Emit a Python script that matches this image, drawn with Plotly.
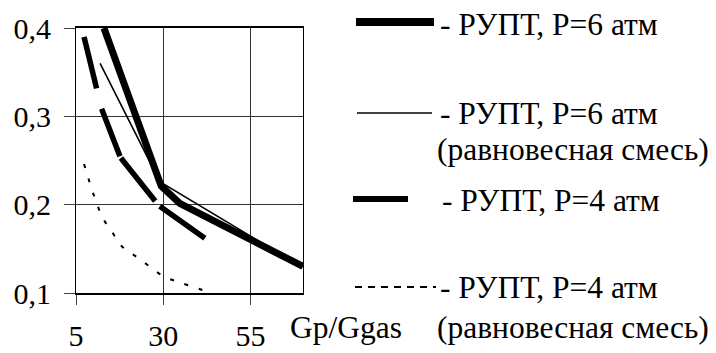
import plotly.graph_objects as go

# ---- data ----
x_p6 = [13.0, 29.4, 34.7, 70.0]
y_p6 = [0.400, 0.221, 0.2015, 0.130]

x_p6eq = [11.9, 29.0, 58.1, 70.0]
y_p6eq = [0.360, 0.226, 0.157, 0.131]

x_p4 = [7.3, 12.3, 17.7, 28.7, 41.9]
y_p4 = [0.390, 0.309, 0.2535, 0.199, 0.162]

x_p4eq = [7.3, 10.0, 12.8, 15.2, 18.1, 22.3, 26.1, 30.0, 34.7, 40.4, 43.3]
y_p4eq = [0.246, 0.212, 0.184, 0.170, 0.153, 0.141, 0.130, 0.119, 0.112, 0.1045, 0.1005]

x_ticks = [5, 30, 55]
y_ticks = [0.1, 0.2, 0.3, 0.4]

legend_labels = ["- РУПТ, Р=6 атм", "- РУПТ, Р=6 атм", "- РУПТ, Р=4 атм", "- РУПТ, Р=4 атм"]
legend_sub = "(равновесная смесь)"
x_title = "Gp/Ggas"

# ---- layout geometry ----
W, H = 716, 353
L, R, T, B = 76, 413, 28, 60
PW, PH = W - L - R, H - T - B
FONT = "Liberation Serif"
FS_TICK = 30
FS_TEXT = 31.5


def px_x(px):
    return (px - L) / PW


def px_y(py):
    return (H - B - py) / PH


fig = go.Figure()
fig.add_trace(go.Scatter(x=x_p4eq, y=y_p4eq, mode="lines",
                         line=dict(color="black", width=2, dash="4px,11px", shape="spline")))
fig.add_trace(go.Scatter(x=x_p4, y=y_p4, mode="lines",
                         line=dict(color="black", width=5.5,
                                   dash="53px,21px,51px,2px,55px,7px,60px,20px")))
fig.add_trace(go.Scatter(x=x_p6eq, y=y_p6eq, mode="lines",
                         line=dict(color="black", width=1.6)))
fig.add_trace(go.Scatter(x=x_p6, y=y_p6, mode="lines",
                         line=dict(color="black", width=7)))

shapes = []
annotations = []
# legend samples: (x0, x1, y, width, dash)
samples = [
    (356, 434, 22, 8, "solid"),
    (357, 432, 113, 1.6, "solid"),
    (353, 408, 199, 6, "solid"),
    (355, 436, 287, 2, "7px,6px"),
]
for x0, x1, yy, w, d in samples:
    shapes.append(dict(type="line", xref="paper", yref="paper",
                       x0=px_x(x0), x1=px_x(x1), y0=px_y(yy), y1=px_y(yy),
                       line=dict(color="black", width=w, dash=d)))

text_rows = [
    (legend_labels[0], 438, 24),
    (legend_labels[1], 438, 113),
    (legend_sub, 435, 149),
    (legend_labels[2], 440, 200),
    (legend_labels[3], 438, 287),
    (legend_sub, 435, 327),
    (x_title, 288, 327),
]
for txt, xx, yy in text_rows:
    annotations.append(dict(text=txt, xref="paper", yref="paper",
                            x=px_x(xx), y=px_y(yy), xanchor="left", yanchor="middle",
                            showarrow=False, font=dict(family=FONT, size=FS_TEXT, color="black")))

fig.update_layout(
    width=W, height=H,
    margin=dict(l=L, r=R, t=T, b=B, pad=0, autoexpand=False),
    paper_bgcolor="white", plot_bgcolor="white",
    showlegend=False,
    separators=",.",
    font=dict(family=FONT, size=FS_TICK, color="black"),
    shapes=shapes,
    annotations=annotations,
)
fig.update_xaxes(range=[5, 70], tickvals=x_ticks, showgrid=True, gridcolor="#333", gridwidth=1,
                 zeroline=False, showline=True, linecolor="black", linewidth=1.5, mirror=True,
                 ticks="outside", ticklen=10, tickcolor="#444", tickwidth=1, automargin=False,
                 ticklabelstandoff=5, tickfont=dict(family=FONT, size=FS_TICK))
fig.update_yaxes(range=[0.1, 0.4], tickvals=y_ticks, tickformat=".1f", showgrid=True,
                 gridcolor="#333", gridwidth=1, zeroline=False, showline=True,
                 linecolor="black", linewidth=1, mirror=True, automargin=False,
                 ticks="outside", ticklen=11, tickcolor="#444", tickwidth=1,
                 ticklabelstandoff=7, tickfont=dict(family=FONT, size=FS_TICK))

fig.write_html("out.html")
